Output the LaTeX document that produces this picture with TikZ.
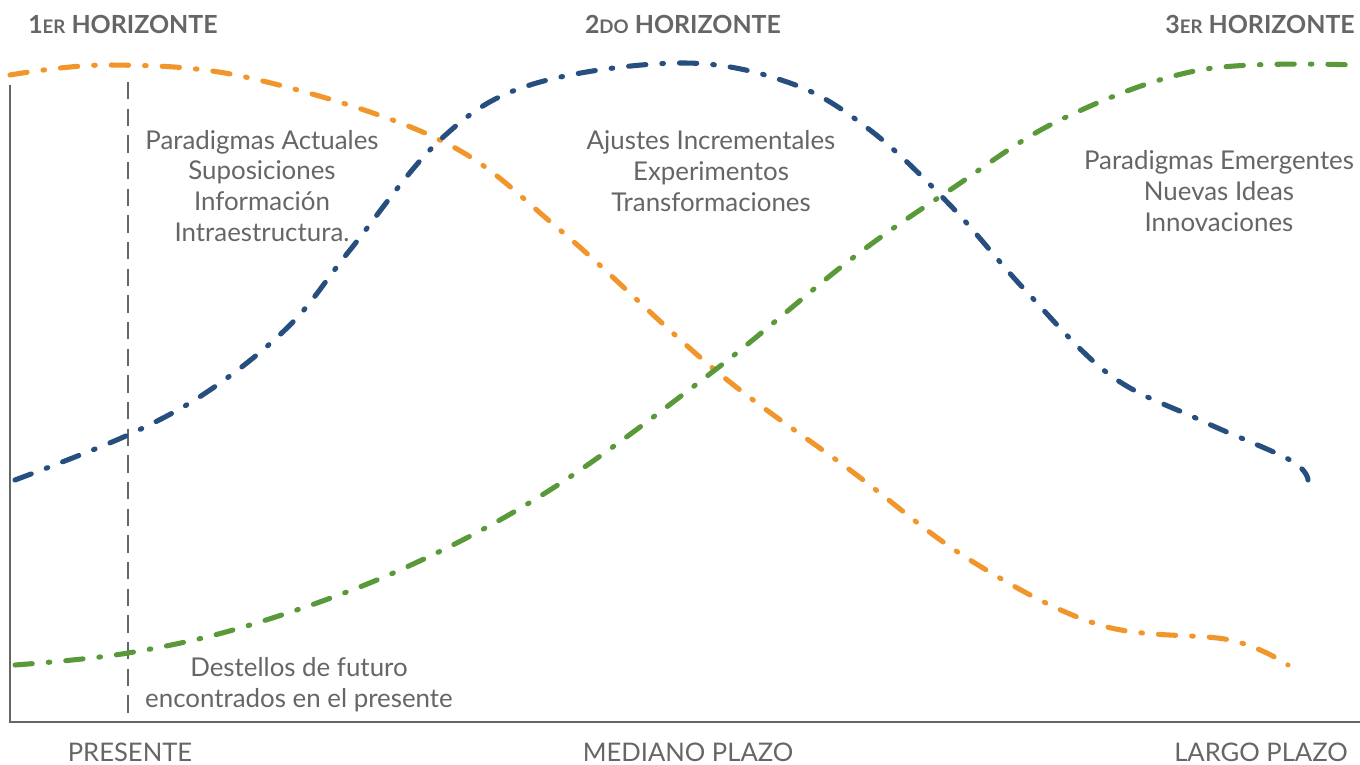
\documentclass[tikz,border=0pt]{standalone}
\usepackage{fontspec}
\setmainfont{Lato}
\usepackage{xcolor}
\usetikzlibrary{positioning}

\definecolor{txtgray}{HTML}{666666}
\definecolor{horiorange}{HTML}{F0962A}
\definecolor{horiblue}{HTML}{264E7E}
\definecolor{horigreen}{HTML}{5A993A}

\tikzset{
  curve/.style={line width=3.8pt, line cap=round, dash pattern=on 13pt off 12pt on 1.2pt off 12pt},
  headtxt/.style={text=txtgray, font=\fontsize{18.7}{22}\selectfont\bfseries, inner sep=0pt},
  bodytxt/.style={text=txtgray, font=\fontsize{19.4}{23.2}\selectfont, align=center, inner sep=0pt},
  axistxt/.style={text=txtgray, font=\fontsize{19.2}{22}\selectfont, inner sep=0pt}
}

\begin{document}
\begin{tikzpicture}[x=0.75pt, y=-0.75pt]
            \useasboundingbox (0,0) rectangle (1360,764);

            % ejes
            \draw[txtgray, line width=2pt] (10,85) -- (10,722) -- (1360,722);
            \draw[txtgray, line width=1.8pt, dash pattern=on 13pt off 7pt] (128,82) -- (128,716);

            % curvas
            \draw[curve, horiorange] plot[smooth, tension=0.6] coordinates {(10,75) (110,65) (250,78) (440,140) (560,230) (715,370) (850,470) (970,560) (1100,625) (1230,640) (1288,665)};
            \draw[curve, horiblue] plot[smooth, tension=0.6] coordinates {(15,480) (128,435) (210,390) (290,325) (350,250) (440,140) (530,85) (680,63) (790,83) (870,130) (950,205) (1025,290) (1110,375) (1200,420) (1290,460) (1308,480)};
            \draw[curve, horigreen] plot[smooth, tension=0.6] coordinates {(15,665) (128,653) (250,625) (400,570) (550,490) (715,370) (850,260) (950,190) (1060,120) (1200,70) (1355,65)};

            % titulos
            \node[headtxt, anchor=west] (h1) at (28,24) {1{\fontsize{14}{16}\selectfont ER} HORIZONTE};
            \node[headtxt] (h2) at (683,24) {2{\fontsize{14}{16}\selectfont DO} HORIZONTE};
            \node[headtxt, anchor=east] (h3) at (1355,24) {3{\fontsize{14}{16}\selectfont ER} HORIZONTE};

            % textos
            \node[bodytxt] (actual) at (262,186) {Paradigmas Actuales\\Suposiciones\\Información\\Intraestructura.};
            \node[bodytxt] (ajustes) at (711,171) {Ajustes Incrementales\\Experimentos\\Transformaciones};
            \node[bodytxt] (emerg) at (1219,191) {Paradigmas Emergentes\\Nuevas Ideas\\Innovaciones};
            \node[bodytxt] (destellos) at (299,685) {Destellos de futuro\\encontrados en el presente};

            % eje x
            \node[axistxt] (presente) at (130,752) {PRESENTE};
            \node[axistxt] (mediano) at (688,752) {MEDIANO PLAZO};
            \node[axistxt] (largo) at (1261,752) {LARGO PLAZO};
        \end{tikzpicture}
\end{document}
